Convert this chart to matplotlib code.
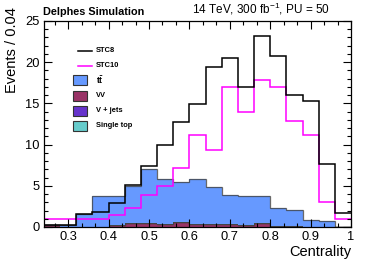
import numpy as np
import matplotlib
matplotlib.use("Agg")
from matplotlib import pyplot as plt
from matplotlib.ticker import MultipleLocator
from matplotlib.patches import Rectangle
from matplotlib.lines import Line2D

plt.rcParams['font.family'] = ['Liberation Sans', 'DejaVu Sans']
plt.rcParams['mathtext.fontset'] = 'custom'
plt.rcParams['mathtext.bf'] = 'Liberation Sans:bold'
plt.rcParams['mathtext.rm'] = 'Liberation Sans'

edges = np.round(np.arange(0.24, 1.0001, 0.04), 2)

stc8 = [0.25, 0.25, 1.55, 1.8, 2.95, 5.05, 7.4, 10.0, 12.7, 14.9,
        19.4, 20.5, 17.0, 23.2, 20.7, 16.0, 15.3, 7.6, 1.66]
stc10 = [0.93, 0.93, 0.93, 0.93, 1.45, 2.35, 3.85, 5.0, 7.2, 11.2,
         9.4, 17.0, 14.0, 17.8, 17.0, 12.9, 11.2, 3.0, 0.93]
vv = [0.25, 0.0, 0.0, 0.0, 0.25, 0.5, 0.45, 0.35, 0.57, 0.35,
      0.35, 0.35, 0.25, 0.45, 0.15, 0.1, 0.0, 0.0, 0.0]
vjets = [0.0] * 19
singletop = [0.0] * 19
ttbar = [0.0, 0.25, 1.55, 3.8, 3.55, 4.45, 6.55, 5.45, 4.85, 5.45,
         4.45, 3.55, 3.5, 3.35, 2.15, 2.0, 0.9, 0.73, 0.0]

c_tt = '#6699ff'
c_vv = '#993366'
c_vj = '#6633cc'
c_st = '#66cccc'

fig = plt.figure(figsize=(3.66, 2.62), dpi=100)
ax = fig.add_axes([0.120, 0.1336, 0.839, 0.7864])

# stacked backgrounds
base = np.zeros(len(vv))
for vals, col in [(vv, c_vv), (vjets, c_vj), (singletop, c_st), (ttbar, c_tt)]:
    top = base + np.array(vals)
    ax.stairs(top, edges, baseline=base, fill=True, color=col, lw=0)
    ax.stairs(top, edges, baseline=None, color='#444444', lw=0.9, alpha=0.8)
    base = top

ax.stairs(stc10, edges, baseline=None, color='#ff00ff', lw=1.1)
ax.stairs(stc8, edges, baseline=None, color='black', lw=1.1)

ax.set_xlim(0.24, 1.0)
ax.set_ylim(0, 25)
ax.xaxis.set_major_locator(MultipleLocator(0.1))
ax.xaxis.set_minor_locator(MultipleLocator(0.1 / 3))
ax.yaxis.set_major_locator(MultipleLocator(5))
ax.yaxis.set_minor_locator(MultipleLocator(1))
ax.tick_params(which='both', direction='in', top=True, right=True, width=0.8)
ax.tick_params(which='major', length=6, labelsize=9.3, pad=3)
ax.tick_params(which='minor', length=3)
ax.set_xticks([0.3, 0.4, 0.5, 0.6, 0.7, 0.8, 0.9, 1.0])
ax.set_xticklabels(['0.3', '0.4', '0.5', '0.6', '0.7', '0.8', '0.9', '1'])
for s in ax.spines.values():
    s.set_linewidth(0.9)

ax.text(-0.104, 1.068, 'Events / 0.04', transform=ax.transAxes, rotation=90,
        ha='center', va='top', fontsize=10.5)
ax.text(1.0, -0.141, 'Centrality', transform=ax.transAxes, ha='right',
        va='baseline', fontsize=10.5)
ax.text(-0.003, 1.02, 'Delphes Simulation', transform=ax.transAxes,
        fontsize=7.8, fontweight='bold', va='bottom', ha='left')
ax.text(0.932, 1.02, r'14 TeV, 300 fb$^{-1}$, PU = 50', transform=ax.transAxes,
        fontsize=8.5, va='bottom', ha='right')

# legend drawn by hand, ROOT-like
def px(x, y):
    return ((x - 44) / 307.0, (227 - y) / 206.0)

lines = [('STC8', 'black'), ('STC10', '#ff00ff')]
boxes = [(r'$\mathbf{t\bar{t}}$', c_tt), ('VV', c_vv), ('V + jets', c_vj), ('Single top', c_st)]
rows = [50.7, 65.7, 80.5, 95.7, 110.7, 126]
for (lab, col), yy in zip(lines, rows[:2]):
    x0, y0 = px(78, yy)
    x1, _ = px(92, yy)
    ax.add_line(Line2D([x0, x1], [y0, y0], transform=ax.transAxes, color=col, lw=1.1))
    tx, ty = px(96, yy)
    ax.text(tx, ty, lab, transform=ax.transAxes, fontsize=5.4, fontweight='bold', va='center')
for (lab, col), yy in zip(boxes, rows[2:]):
    bx, by = px(73.5, yy + 5)
    bw = 14 / 307.0
    bh = 10 / 206.0
    ax.add_patch(Rectangle((bx, by), bw, bh, transform=ax.transAxes, facecolor=col,
                           edgecolor='#333333', lw=0.8))
    tx, ty = px(96, yy)
    fs = 6.2 if lab.startswith('$') else 5.4
    ax.text(tx, ty, lab, transform=ax.transAxes, fontsize=fs, fontweight='bold', va='center')

fig.savefig('out.png', dpi=100)
